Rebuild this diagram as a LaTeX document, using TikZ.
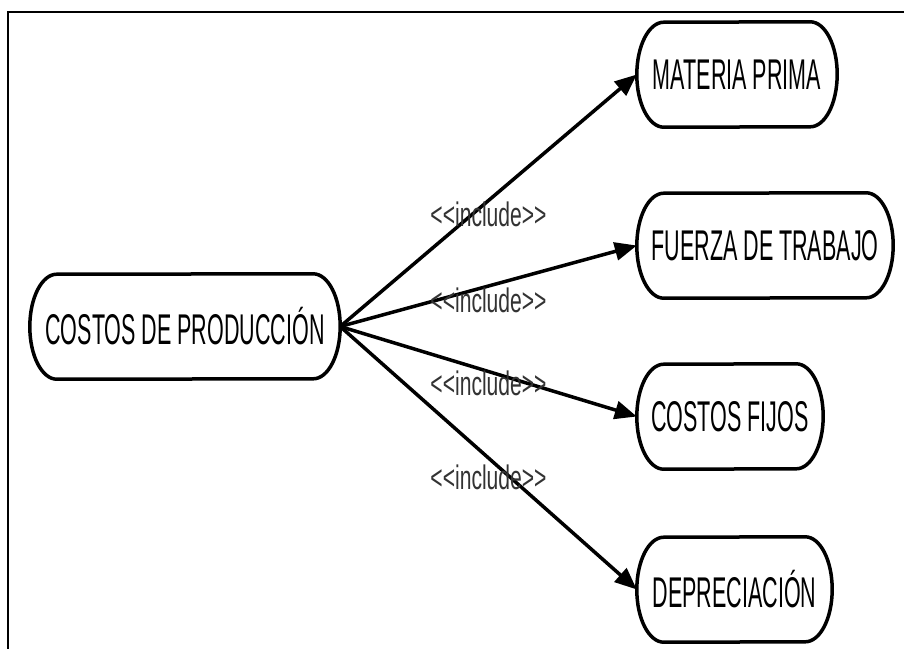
\documentclass[tikz,border=0pt]{standalone}
\usepackage{fontspec}
\newfontfamily\nodefont{Liberation Sans}[FakeStretch=0.5]
\newfontfamily\lblfont{Liberation Sans}[FakeStretch=0.62]
\usetikzlibrary{arrows.meta,calc}
\tikzset{
  usecase/.style={draw=none, inner sep=0pt, minimum height=105pt,
    font=\nodefont\fontsize{43}{43}\selectfont},
  outline/.style={line width=3.5pt, black},
  arr/.style={line width=3.5pt, -{Triangle[length=22pt,width=18pt]}},
  lbl/.style={font=\lblfont\fontsize{34}{34}\selectfont, text=black!80, inner sep=0pt},
  frame/.style={line width=1.5pt}
}
\newcommand{\ucoutline}[1]{%
  \draw[outline] ($(#1.north east)+(-27,0)$)
    arc[start angle=90,end angle=-90,x radius=27,y radius=52.5]
    -- ($(#1.south west)+(27,0)$)
    arc[start angle=270,end angle=90,x radius=27,y radius=52.5]
    -- cycle;}
\begin{document}
\begin{tikzpicture}[x=1pt,y=1pt]
\useasboundingbox (0,0) rectangle (904,-649);
\fill[white] (0,0) rectangle (904,-649);
\coordinate (fa) at (904,-12);
\coordinate (fb) at (8,-12);
\coordinate (fc) at (8,-649);
\draw[frame] (fa) -- (fb) -- (fc);

\node[usecase, minimum width=310pt] (src) at (185,-326.5) {COSTOS DE PRODUCCIÓN};
\node[usecase, minimum width=200pt] (m1) at (737,-74.5) {MATERIA PRIMA};
\node[usecase, minimum width=256pt] (m2) at (765,-245.5) {FUERZA DE TRABAJO};
\node[usecase, minimum width=186pt] (m3) at (730,-416.5) {COSTOS FIJOS};
\node[usecase, minimum width=195pt] (m4) at (734.5,-589.5) {DEPRECIACIÓN};

\ucoutline{src}
\ucoutline{m1}
\ucoutline{m2}
\ucoutline{m3}
\ucoutline{m4}

\draw[arr] (src.east) -- (m1.west) node[lbl, midway, yshift=-14pt] {<<include>>};
\draw[arr] (src.east) -- (m2.west) node[lbl, midway, yshift=-14pt] {<<include>>};
\draw[arr] (src.east) -- (m3.west) node[lbl, midway, yshift=-12pt] {<<include>>};
\draw[arr] (src.east) -- (m4.west) node[lbl, midway, yshift=-19pt] {<<include>>};
\end{tikzpicture}
\end{document}
